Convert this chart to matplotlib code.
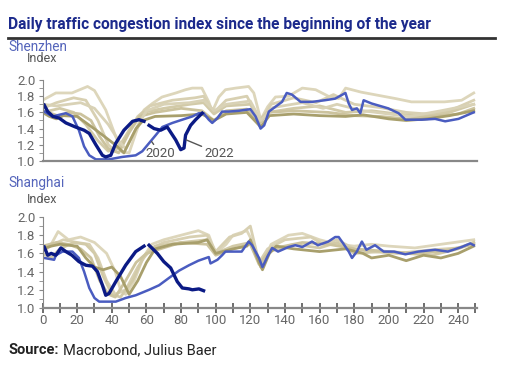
import matplotlib.pyplot as plt
import numpy as np

plt.rcParams['font.family'] = ['Roboto', 'DejaVu Sans']

# --- Shenzhen -------------------------------------------------------------
sz_2022_days = [1, 3, 6, 9.6, 13.5, 19, 24, 27, 30.8, 34.6, 36.5, 39.4, 42.3, 47, 52, 55.7, 58.6,
                60, 61.5, 64.4, 68.2, 72, 76.9, 79.8, 81.7, 82.6, 85.5, 88.4, 92.2]
sz_2022 = [1.69, 1.61, 1.55, 1.53, 1.47, 1.42, 1.38, 1.34, 1.20, 1.07, 1.05, 1.07, 1.22, 1.38, 1.49, 1.51, 1.49,
           np.nan, 1.44, 1.40, 1.38, 1.42, 1.26, 1.14, 1.16, 1.32, 1.44, 1.51, 1.59]

sz_2020_days = [1, 5.8, 9.6, 13.5, 17.3, 21, 24, 27, 30.8, 38.4, 46, 53.8, 57.6, 61.5, 65.4, 69.2, 75, 80.7,
                86.5, 90.3, 93, 96, 98, 101, 103.7, 107.5, 113.4, 120, 123, 125.9, 128, 130.7, 134.5, 138.3,
                141, 144, 149, 155.6, 163, 169, 174.9, 176.8, 178.7, 181.5, 183.5, 185.4, 190, 199.6, 205.6,
                209.5, 219, 226.7, 232.5, 240.2, 247.8, 249]
sz_2020 = [1.61, 1.55, 1.57, 1.59, 1.55, 1.38, 1.18, 1.07, 1.02, 1.02, 1.05, 1.07, 1.12, 1.22, 1.32, 1.42, 1.47, 1.51,
           1.55, 1.59, 1.59, 1.51, 1.47, 1.53, 1.61, 1.61, 1.62, 1.64, 1.55, 1.40, 1.44, 1.61, 1.67, 1.73,
           1.84, 1.82, 1.73, 1.73, 1.75, 1.77, 1.84, 1.71, 1.63, 1.65, 1.59, 1.75, 1.71, 1.65, 1.59,
           1.51, 1.51, 1.52, 1.49, 1.52, 1.59, 1.60]

sz_other_days = [
    [0, 7.7, 17, 26, 30, 36.5, 42.3, 46, 50, 53.8, 58.6, 63.4, 69, 77, 82.6, 86.5, 92, 96, 98, 101.8, 105.6,
     111.5, 119, 122, 126, 130, 134.5, 142, 150, 157.7, 165, 171, 175, 184, 194, 204, 213, 223, 232, 242, 249],
    [0, 8, 18, 25, 32, 38, 42, 48, 55, 62, 75, 88, 93, 99, 106, 118, 126, 132, 145, 158, 168, 180, 195, 210,
     222, 235, 249],
    [0, 10, 18, 25, 32, 38, 45, 52, 58, 70, 85, 93, 99, 106, 120, 125, 130, 145, 160, 175, 190, 205, 220, 235, 249],
    [0, 6, 10, 15, 22, 28, 33, 38, 44, 50, 56, 65, 80, 92, 99, 106, 118, 125, 130, 145, 165, 180, 195, 210, 225,
     240, 249],
    [0, 8, 15, 22, 30, 38, 44, 48, 54, 60, 70, 85, 93, 99, 106, 120, 126, 133, 150, 162, 170, 185, 200, 212,
     230, 249],
    [0, 4, 8, 12, 20, 31, 42, 47, 54, 58, 65, 80, 92, 99, 106, 118, 126, 131, 145, 160, 175, 185, 200, 210, 222,
     235, 249],
]
sz_other = [
    [1.75, 1.84, 1.84, 1.92, 1.87, 1.63, 1.30, 1.11, 1.10, 1.34, 1.63, 1.71, 1.79, 1.84, 1.88, 1.90, 1.90, 1.73,
     1.61, 1.79, 1.88, 1.90, 1.92, 1.84, 1.51, 1.67, 1.79, 1.80, 1.90, 1.88, 1.80, 1.77, 1.90, 1.85, 1.81,
     1.77, 1.73, 1.73, 1.73, 1.75, 1.84],
    [1.65, 1.72, 1.78, 1.75, 1.50, 1.20, 1.12, 1.30, 1.55, 1.68, 1.75, 1.78, 1.80, 1.60, 1.75, 1.80, 1.48, 1.70,
     1.78, 1.72, 1.82, 1.70, 1.66, 1.60, 1.58, 1.62, 1.75],
    [1.60, 1.65, 1.60, 1.45, 1.25, 1.12, 1.20, 1.45, 1.60, 1.65, 1.70, 1.72, 1.58, 1.68, 1.70, 1.50, 1.60, 1.65,
     1.68, 1.60, 1.62, 1.58, 1.55, 1.60, 1.70],
    [1.62, 1.58, 1.55, 1.60, 1.58, 1.50, 1.30, 1.15, 1.10, 1.35, 1.55, 1.60, 1.65, 1.62, 1.50, 1.62, 1.64, 1.45,
     1.60, 1.62, 1.60, 1.56, 1.55, 1.52, 1.55, 1.58, 1.65],
    [1.70, 1.68, 1.70, 1.72, 1.65, 1.45, 1.25, 1.15, 1.40, 1.62, 1.70, 1.72, 1.75, 1.62, 1.70, 1.74, 1.50, 1.66,
     1.72, 1.65, 1.70, 1.62, 1.58, 1.55, 1.62, 1.70],
    [1.60, 1.55, 1.52, 1.56, 1.55, 1.38, 1.20, 1.10, 1.40, 1.50, 1.55, 1.56, 1.58, 1.50, 1.58, 1.60, 1.42, 1.56,
     1.58, 1.56, 1.55, 1.57, 1.52, 1.50, 1.52, 1.56, 1.62],
]

# --- Shanghai -------------------------------------------------------------
sh_2022_days = [1, 3, 5, 7.7, 10.6, 13.5, 17, 21, 25, 28.8, 31.7, 34.6, 36.5, 38.4, 42.3, 48, 53.8, 58.6,
                60, 61.5, 66.3, 70, 74, 77.8, 80.7, 84.6, 86.5, 90.3, 93]
sh_2022 = [1.67, 1.58, 1.60, 1.58, 1.66, 1.62, 1.58, 1.51, 1.47, 1.46, 1.40, 1.25, 1.14, 1.16, 1.29, 1.47, 1.62, 1.68,
           np.nan, 1.69, 1.60, 1.51, 1.44, 1.29, 1.22, 1.21, 1.20, 1.21, 1.19]

sh_2020_days = [1, 6.7, 7.7, 11.5, 17.3, 21, 24, 27, 30, 32.7, 42.3, 48, 53.8, 61.5, 67.3, 73, 78.8, 84.6,
                90, 96, 97, 101, 103.7, 105.6, 115, 119, 121, 125, 127, 130, 132.6, 136, 142, 146, 150,
                155.6, 159, 165, 169, 171, 173.6, 176.8, 178.7, 181.5, 184.4, 187, 192, 197, 203, 209.5,
                217, 226.7, 234, 242, 247, 249]
sh_2020 = [1.55, 1.53, 1.58, 1.62, 1.62, 1.55, 1.40, 1.22, 1.11, 1.07, 1.07, 1.11, 1.14, 1.20, 1.25, 1.33, 1.41, 1.47,
           1.52, 1.56, 1.49, 1.53, 1.58, 1.62, 1.62, 1.73, 1.69, 1.55, 1.45, 1.57, 1.66, 1.62, 1.67, 1.69, 1.67,
           1.73, 1.69, 1.73, 1.78, 1.78, 1.71, 1.62, 1.55, 1.62, 1.73, 1.64, 1.69, 1.62, 1.62, 1.59,
           1.62, 1.64, 1.62, 1.67, 1.71, 1.69]

sh_other_days = [
    [0, 5, 9, 15, 22, 30, 37, 42, 45, 48, 53, 58, 63, 70, 80, 90, 96, 100, 106, 110, 118, 122, 126, 132, 142,
     150, 160, 170, 180, 190, 200, 215, 230, 249],
    [0, 6, 12, 20, 27, 32, 37, 42, 48, 55, 62, 70, 85, 95, 100, 108, 115, 120, 125, 130, 140, 155, 162, 170,
     180, 190, 205, 225, 240, 249],
    [0, 5, 10, 18, 25, 30, 35, 40, 45, 52, 58, 65, 80, 95, 100, 110, 120, 126, 131, 145, 160, 170, 180, 195,
     210, 225, 240, 249],
    [0, 8, 15, 22, 28, 33, 38, 42, 48, 54, 60, 68, 80, 95, 100, 110, 120, 125, 132, 150, 165, 180, 200, 215,
     230, 249],
    [0, 5, 10, 20, 25, 30, 35, 40, 45, 50, 55, 60, 65, 75, 90, 95, 100, 110, 118, 120, 125, 127, 131, 135, 145,
     160, 175, 185, 190, 200, 210, 220, 230, 240, 249],
]
sh_other = [
    [1.65, 1.70, 1.84, 1.75, 1.78, 1.72, 1.60, 1.40, 1.20, 1.15, 1.30, 1.55, 1.70, 1.75, 1.80, 1.85, 1.80, 1.60,
     1.70, 1.80, 1.85, 1.70, 1.45, 1.70, 1.80, 1.82, 1.75, 1.70, 1.68, 1.70, 1.68, 1.66, 1.70, 1.75],
    [1.62, 1.70, 1.75, 1.72, 1.70, 1.55, 1.30, 1.15, 1.20, 1.45, 1.65, 1.72, 1.78, 1.80, 1.62, 1.78, 1.82, 1.90,
     1.50, 1.65, 1.75, 1.78, 1.70, 1.75, 1.65, 1.62, 1.60, 1.64, 1.66, 1.72],
    [1.60, 1.55, 1.65, 1.72, 1.70, 1.60, 1.35, 1.15, 1.12, 1.30, 1.55, 1.68, 1.72, 1.75, 1.60, 1.68, 1.72, 1.45,
     1.62, 1.70, 1.66, 1.72, 1.60, 1.62, 1.60, 1.58, 1.65, 1.72],
    [1.68, 1.72, 1.70, 1.65, 1.55, 1.30, 1.15, 1.12, 1.30, 1.50, 1.60, 1.65, 1.72, 1.70, 1.58, 1.65, 1.70, 1.48,
     1.65, 1.72, 1.70, 1.65, 1.62, 1.60, 1.62, 1.70],
    [1.65, 1.68, 1.70, 1.68, 1.55, 1.45, 1.42, 1.45, 1.35, 1.15, 1.30, 1.50, 1.65, 1.70, 1.72, 1.75, 1.60, 1.65,
     1.68, 1.75, 1.50, 1.42, 1.60, 1.68, 1.65, 1.62, 1.65, 1.60, 1.55, 1.58, 1.52, 1.58, 1.55, 1.60, 1.68],
]

beige_light = ['#ddd6bb', '#d8d0b2', '#d2caa8', '#ccc39e', '#d9d2b6']
olive = '#a89f6c'
light_blue = '#4a5cc0'
navy = '#0b1a85'
grey = '#666666'


def style_axis(ax, show_x):
    ax.set_xlim(0, 251)
    ax.set_ylim(1.0, 2.0)
    ax.set_yticks(np.arange(1.0, 2.01, 0.2))
    ax.set_yticks(np.arange(1.0, 2.01, 0.1), minor=True)
    ax.set_yticklabels([f"{v:.1f}" for v in np.arange(1.0, 2.01, 0.2)])
    for s in ['top', 'right']:
        ax.spines[s].set_visible(False)
    ax.spines['left'].set_color('#888888')
    ax.spines['bottom'].set_color('#888888')
    ax.spines['bottom'].set_linewidth(1.6)
    ax.tick_params(axis='y', which='both', direction='out', length=3, color='#888888',
                   labelsize=9.5, labelcolor=grey, pad=2)
    if show_x:
        ax.set_xticks(np.arange(0, 251, 20))
        ax.set_xticks(np.arange(0, 251, 10), minor=True)
        ax.tick_params(axis='x', which='both', direction='inout', length=7, width=1.2, color='#555555',
                       labelsize=9.5, labelcolor=grey, pad=1)
    else:
        ax.set_xticks([])


fig = plt.figure(figsize=(5.25, 3.69), dpi=100)

ax1 = fig.add_axes([0.081, 0.5637, 0.828, 0.2195])
ax2 = fig.add_axes([0.081, 0.1653, 0.828, 0.2466])

for ax, odays, ovals, d20, v20, d22, v22 in [
        (ax1, sz_other_days, sz_other, sz_2020_days, sz_2020, sz_2022_days, sz_2022),
        (ax2, sh_other_days, sh_other, sh_2020_days, sh_2020, sh_2022_days, sh_2022)]:
    n = len(odays)
    for i, (d, v) in enumerate(zip(odays, ovals)):
        col = olive if i == n - 1 else beige_light[i % len(beige_light)]
        ax.plot(d, v, color=col, lw=2, solid_joinstyle='round')
    ax.plot(d20, v20, color=light_blue, lw=1.8)
    ax.plot(d22, v22, color=navy, lw=2.4)

style_axis(ax1, False)
style_axis(ax2, True)

# annotations
ax1.annotate('2020', xy=(63, 1.24), xytext=(68, 1.09), fontsize=9.5, color='#555555', ha='center', va='center',
             arrowprops=dict(arrowstyle='-', color='#555555', lw=1, shrinkA=4, shrinkB=0))
ax1.annotate('2022', xy=(83, 1.26), xytext=(102, 1.09), fontsize=9.5, color='#555555', ha='center', va='center',
             arrowprops=dict(arrowstyle='-', color='#555555', lw=1, shrinkA=12, shrinkB=0))

# header and labels
fig.text(0.016, 1 - 24 / 369, 'Daily traffic congestion index since the beginning of the year',
         fontsize=11.2, fontweight='bold', color='#1c2a8c', va='center', ha='left')
fig.add_artist(plt.Line2D([8 / 525, 495 / 525], [1 - 37.5 / 369, 1 - 37.5 / 369], color='#333333', lw=2))
fig.text(0.016, 1 - 47 / 369, 'Shenzhen', fontsize=9.8, color='#5565bb', va='center')
fig.text(0.052, 1 - 59 / 369, 'Index', fontsize=9, color='#555555', va='center')
fig.text(0.016, 1 - 183 / 369, 'Shanghai', fontsize=9.8, color='#5565bb', va='center')
fig.text(0.052, 1 - 199 / 369, 'Index', fontsize=9, color='#555555', va='center')
fig.text(0.016, 1 - 350 / 369, 'Source:', fontsize=10.5, fontweight='bold', color='#222222', va='center')
fig.text(63 / 525, 1 - 350 / 369, 'Macrobond, Julius Baer', fontsize=10.5, color='#222222', va='center')

fig.savefig('out.png', dpi=100)
